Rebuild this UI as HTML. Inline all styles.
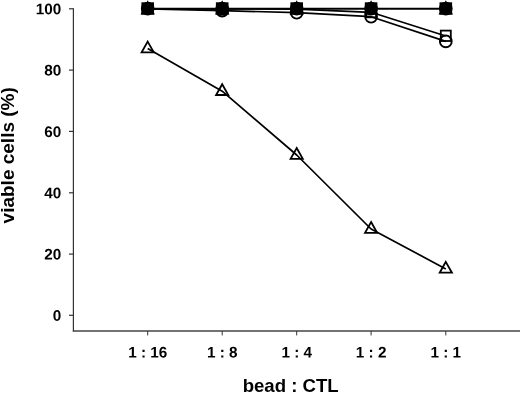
<!DOCTYPE html>
<html>
<head>
<meta charset="utf-8">
<style>
html,body{margin:0;padding:0;background:#fff;}
body{width:520px;height:393px;overflow:hidden;font-family:"Liberation Sans",sans-serif;}
svg{display:block;will-change:transform;}
text{font-family:"Liberation Sans",sans-serif;font-weight:bold;fill:#000;}
</style>
</head>
<body>
<svg width="520" height="393" viewBox="0 0 520 393">
<rect width="520" height="393" fill="#fff"/>
<g stroke="#333" stroke-width="1.2" fill="none">
<line x1="73.4" y1="8.2" x2="73.4" y2="331.5"/>
<line x1="72.8" y1="330.9" x2="520" y2="330.9" stroke="#444" stroke-width="1.5"/>
<line x1="69" y1="8.8" x2="73.4" y2="8.8"/>
<line x1="69" y1="70.1" x2="73.4" y2="70.1"/>
<line x1="69" y1="131.4" x2="73.4" y2="131.4"/>
<line x1="69" y1="192.8" x2="73.4" y2="192.8"/>
<line x1="69" y1="254.1" x2="73.4" y2="254.1"/>
<line x1="69" y1="315.3" x2="73.4" y2="315.3"/>
<line x1="147.7" y1="331" x2="147.7" y2="335.4" stroke-width="1"/>
<line x1="222.2" y1="331" x2="222.2" y2="335.4" stroke-width="1"/>
<line x1="296.7" y1="331" x2="296.7" y2="335.4" stroke-width="1"/>
<line x1="371.1" y1="331" x2="371.1" y2="335.4" stroke-width="1"/>
<line x1="445.8" y1="331" x2="445.8" y2="335.4" stroke-width="1"/>
</g>
<g font-size="15.3" text-anchor="end">
<text transform="translate(61.3,14.3) rotate(0.03)">100</text>
<text transform="translate(61.3,75.6) rotate(0.03)">80</text>
<text transform="translate(61.3,136.9) rotate(0.03)">60</text>
<text transform="translate(61.3,198.3) rotate(0.03)">40</text>
<text transform="translate(61.3,259.6) rotate(0.03)">20</text>
<text transform="translate(61.3,320.8) rotate(0.03)">0</text>
</g>
<g font-size="15.3" text-anchor="middle">
<text transform="translate(147.7,357.5) rotate(0.03)">1 : 16</text>
<text transform="translate(222.2,357.5) rotate(0.03)">1 : 8</text>
<text transform="translate(296.7,357.5) rotate(0.03)">1 : 4</text>
<text transform="translate(371.1,357.5) rotate(0.03)">1 : 2</text>
<text transform="translate(445.8,357.5) rotate(0.03)">1 : 1</text>
</g>
<text x="290.7" y="392" font-size="18.6" text-anchor="middle">bead : CTL</text>
<text transform="translate(14.1,155.3) rotate(-90)" font-size="19" text-anchor="middle">viable cells (%)</text>
<g stroke="#000" stroke-width="1.7" fill="none" stroke-linejoin="round">
<polyline points="147.7,8.8 222.2,8.8 296.7,8.8 371.1,8.8 445.8,8.8" stroke-width="2"/>
<polyline points="147.7,8.8 222.2,8.8 296.7,9.2 371.1,12.3 445.8,36.0"/>
<polyline points="147.7,8.8 222.2,10.6 296.7,12.7 371.1,16.7 445.8,41.4"/>
<polyline points="147.7,48.6 222.2,91.2 296.7,155.0 371.1,229.0 445.8,268.9"/>
</g>
<g stroke="#000" stroke-width="1.8" fill="none">
<circle cx="222.2" cy="10.6" r="5.9" stroke-width="1.9"/>
<circle cx="296.7" cy="12.7" r="5.9" stroke-width="1.9"/>
<circle cx="371.1" cy="16.7" r="5.9" stroke-width="1.9"/>
<circle cx="445.8" cy="41.4" r="5.9" stroke-width="1.9"/>
<rect x="366.1" y="6.9" width="10.0" height="10.4"/>
<rect x="440.8" y="30.6" width="10.0" height="10.4"/>
<path d="M147.7,41.60 L153.80,52.40 L141.60,52.40 Z"/>
<path d="M222.2,84.20 L228.30,95.00 L216.10,95.00 Z"/>
<path d="M296.7,148.00 L302.80,158.80 L290.60,158.80 Z"/>
<path d="M371.1,222.00 L377.20,232.80 L365.00,232.80 Z"/>
<path d="M445.8,261.90 L451.90,272.70 L439.70,272.70 Z"/>
</g>
<g fill="#000" stroke="none">
<rect x="141.4" y="2.3" width="12.6" height="12.3"/>
<circle cx="147.7" cy="8.6" r="6.8"/>
<path d="M147.7,0.3 L154.9,14.4 L140.5,14.4 Z"/>
<rect x="215.9" y="2.3" width="12.6" height="12.3"/>
<circle cx="222.2" cy="8.6" r="6.8"/>
<path d="M222.2,0.3 L229.4,14.4 L215.0,14.4 Z"/>
<rect x="290.4" y="2.3" width="12.6" height="12.3"/>
<circle cx="296.7" cy="8.6" r="6.8"/>
<path d="M296.7,0.3 L303.9,14.4 L289.5,14.4 Z"/>
<rect x="364.8" y="2.3" width="12.6" height="12.3"/>
<circle cx="371.1" cy="8.6" r="6.8"/>
<path d="M371.1,0.3 L378.3,14.4 L363.9,14.4 Z"/>
<rect x="439.5" y="2.3" width="12.6" height="12.3"/>
<circle cx="445.8" cy="8.6" r="6.8"/>
<path d="M445.8,0.3 L453.0,14.4 L438.6,14.4 Z"/>
</g>
</svg>
</body>
</html>
